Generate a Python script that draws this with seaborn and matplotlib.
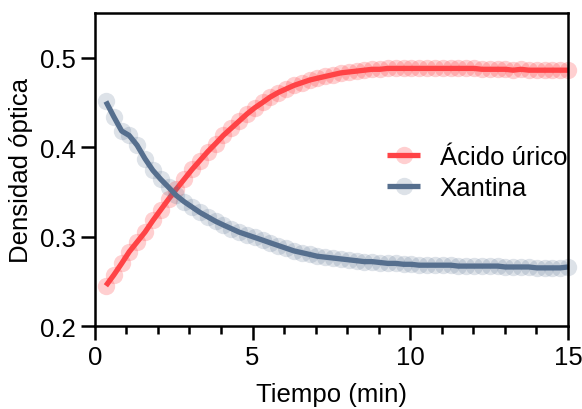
import numpy as np
import pandas as pd
import matplotlib
matplotlib.use("Agg")
import matplotlib.pyplot as plt
import seaborn as sns
from matplotlib.colors import to_rgba
from matplotlib.ticker import MultipleLocator

# Sampling times (min)
tiempo = [0.35, 0.60, 0.85, 1.09, 1.34, 1.59, 1.84, 2.09, 2.34, 2.58,
          2.83, 3.08, 3.33, 3.58, 3.83, 4.07, 4.32, 4.57, 4.82, 5.07,
          5.32, 5.56, 5.81, 6.06, 6.31, 6.56, 6.81, 7.05, 7.30, 7.55,
          7.80, 8.05, 8.30, 8.54, 8.79, 9.04, 9.29, 9.54, 9.79, 10.03,
          10.28, 10.53, 10.78, 11.03, 11.28, 11.52, 11.77, 12.02, 12.27, 12.52,
          12.77, 13.01, 13.26, 13.51, 13.76, 14.01, 14.26, 14.50, 14.75, 15.00]

# Optical density, uric acid
acido_urico = [0.245, 0.257, 0.270, 0.283, 0.294, 0.305, 0.318, 0.330, 0.342, 0.353,
               0.364, 0.375, 0.385, 0.395, 0.404, 0.413, 0.421, 0.429, 0.437, 0.444,
               0.450, 0.456, 0.461, 0.465, 0.469, 0.472, 0.475, 0.477, 0.479, 0.481,
               0.483, 0.484, 0.485, 0.486, 0.487, 0.487, 0.488, 0.488, 0.488, 0.488,
               0.488, 0.488, 0.488, 0.488, 0.488, 0.488, 0.488, 0.488, 0.487, 0.487,
               0.487, 0.487, 0.486, 0.487, 0.486, 0.486, 0.486, 0.486, 0.486, 0.486]

# Optical density, xanthine
xantina = [0.451, 0.434, 0.418, 0.413, 0.402, 0.387, 0.374, 0.364, 0.355, 0.346,
           0.339, 0.333, 0.327, 0.322, 0.317, 0.313, 0.309, 0.305, 0.302, 0.299,
           0.296, 0.293, 0.290, 0.287, 0.284, 0.282, 0.280, 0.278, 0.277, 0.276,
           0.275, 0.274, 0.273, 0.272, 0.272, 0.271, 0.270, 0.270, 0.269, 0.269,
           0.268, 0.268, 0.268, 0.268, 0.268, 0.267, 0.267, 0.267, 0.267, 0.267,
           0.267, 0.266, 0.266, 0.266, 0.266, 0.265, 0.265, 0.265, 0.265, 0.266]

series = ["Ácido úrico", "Xantina"]
colores = ["#FF4346", "#566F8E"]

df = pd.concat([
    pd.DataFrame({"t": tiempo, "od": acido_urico, "serie": series[0]}),
    pd.DataFrame({"t": tiempo, "od": xantina, "serie": series[1]}),
])

sns.set_style("ticks")
plt.rcParams["font.family"] = ["Liberation Sans", "DejaVu Sans"]
plt.rcParams["text.color"] = "black"
plt.rcParams["axes.labelcolor"] = "black"
plt.rcParams["xtick.color"] = "black"
plt.rcParams["ytick.color"] = "black"

fig = plt.figure(figsize=(5.82, 4.10), dpi=100)
ax = fig.add_axes([0.163, 0.2024, 0.813, 0.7636])

sns.lineplot(data=df, x="t", y="od", hue="serie", palette=colores,
             marker="o", markersize=12.5, linewidth=3.8, legend=False, ax=ax)

alphas = [0.25, 0.2]
for line, c, a in zip(ax.lines, colores, alphas):
    line.set_markerfacecolor(to_rgba(c, a))
    line.set_markeredgecolor("none")
    line.set_clip_on(False)
    line.set_solid_capstyle("butt")

ax.set_xlim(0, 15)
ax.set_ylim(0.2, 0.55)
ax.xaxis.set_major_locator(MultipleLocator(5))
ax.xaxis.set_minor_locator(MultipleLocator(1))
ax.set_yticks([0.2, 0.3, 0.4, 0.5])

for s in ax.spines.values():
    s.set_visible(True)
    s.set_linewidth(1.8)
    s.set_color("black")

ax.tick_params(which="major", length=10, width=1.8, labelsize=18.5, pad=4,
               color="black", labelcolor="black")
ax.tick_params(which="minor", length=5.5, width=1.8, color="black")

ax.set_xlabel("Tiempo (min)", fontsize=18.5, labelpad=9)
ax.set_ylabel("Densidad óptica", fontsize=18.5, labelpad=5)

ax.legend(handles=ax.lines[:2], labels=series, loc="center left",
          bbox_to_anchor=(0.59, 0.49), frameon=False, fontsize=18.5,
          borderpad=0, handlelength=1.3, handletextpad=0.75, labelspacing=0.3)

fig.savefig("out.png", dpi=100)
